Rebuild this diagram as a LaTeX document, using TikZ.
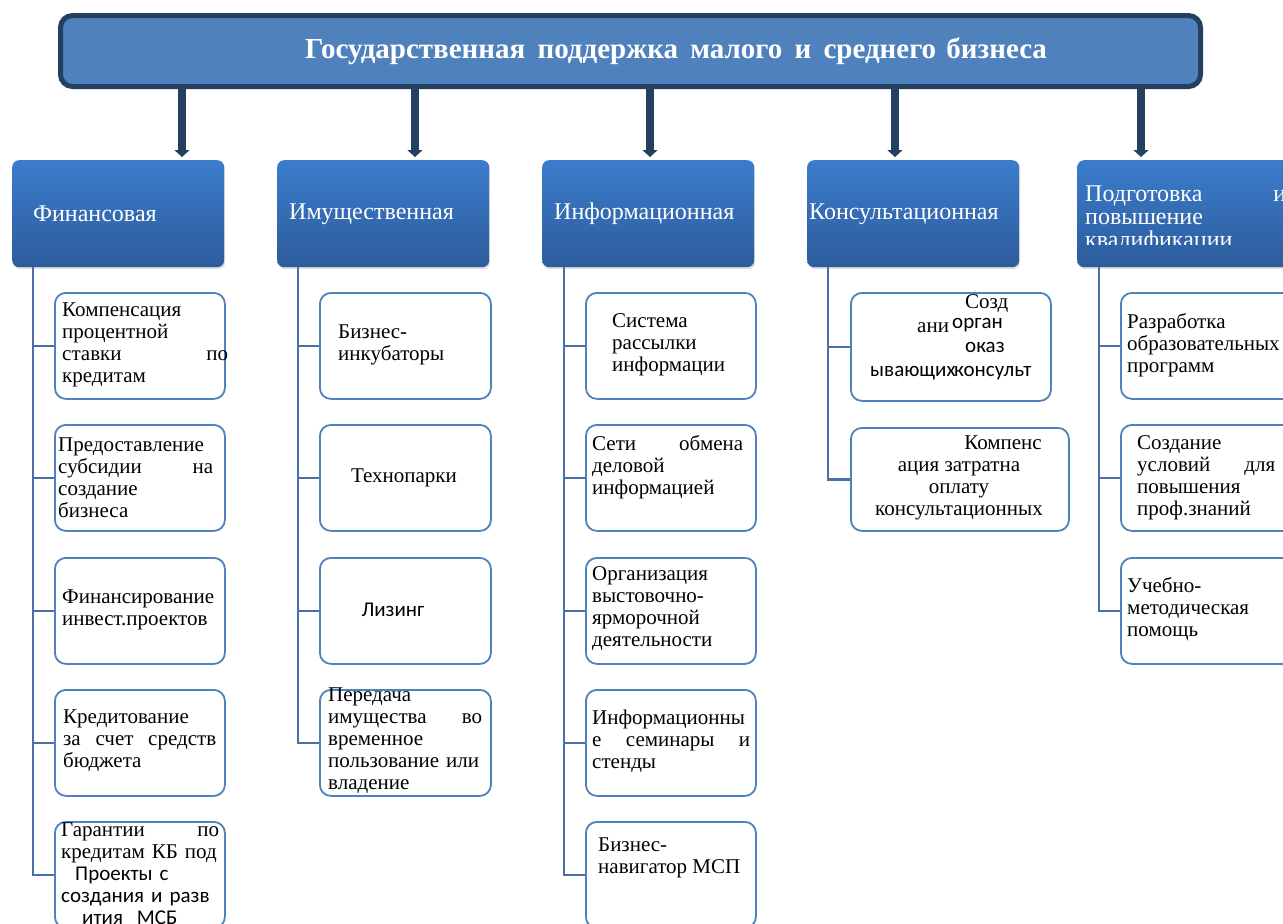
\documentclass[tikz,border=0pt]{standalone}
\usepackage{fontspec}
\setmainfont{Liberation Serif}
\newfontfamily\calfont{Carlito}
\usetikzlibrary{arrows.meta,shadows}
\definecolor{navy}{HTML}{243F60}
\definecolor{tfill}{HTML}{4F81BD}
\definecolor{ctop}{HTML}{3B7CCC}
\definecolor{cbot}{HTML}{2D5C9B}
\definecolor{sbord}{HTML}{4F81BD}
\definecolor{brline}{HTML}{4A6FA5}
\tikzset{
  titlebox/.style={draw=navy, line width=5pt, fill=tfill, rounded corners=12pt, anchor=north west, inner sep=0pt},
  catbox/.style={rounded corners=7pt, top color=ctop, bottom color=cbot, anchor=north west, inner sep=0pt,
     minimum width=212pt, minimum height=107pt, drop shadow={opacity=0.25, shadow xshift=1pt, shadow yshift=-2pt}},
  cattext/.style={text=white, font=\fontsize{24}{23}\selectfont, anchor=west, inner sep=0pt, align=left},
  subbox/.style={draw=sbord, line width=1.8pt, rounded corners=11pt, fill=white, anchor=north west, inner sep=0pt,
     minimum width=170pt, minimum height=106pt},
  subtext/.style={font=\fontsize{21}{22}\selectfont, anchor=west, inner sep=0pt, align=left},
  caltext/.style={subtext, font=\calfont\fontsize{21}{22}\selectfont},
  arr/.style={draw=navy, line width=8.5pt, -{Triangle[width=15pt,length=7pt]}},
  br/.style={draw=brline, line width=2.2pt},
}
\begin{document}
\begin{tikzpicture}[x=1pt,y=-1pt]
\clip (0,0) rectangle (1283,924);
\fill[white] (0,0) rectangle (1283,924);
% title
\node[titlebox, minimum width=1140pt, minimum height=71pt] (title) at (58,13) {};
\node[text=white, font=\bfseries\fontsize{29}{30}\selectfont, anchor=west, inner sep=0pt] (ttl) at (305,51)
  {Государственная\hspace{5pt} поддержка\hspace{5pt} малого\hspace{5pt} и\hspace{5pt} среднего\hspace{3pt} бизнеса};
% categories
\node[catbox] (c1) at (12,160) {};
\node[catbox] (c2) at (277,160) {};
\node[catbox] (c3) at (542,160) {};
\node[catbox] (c4) at (807,160) {};
\node[catbox, minimum width=230pt] (c5) at (1077,160) {};
\node[cattext] (ct1) at (33,214) {Финансовая};
\node[cattext] (ct2) at (289,214) {Имущественная};
\node[cattext] (ct3) at (554,214) {Информационная};
\node[cattext] (ct4) at (809,214) {Консультационная};
\begin{scope}
\clip (1077,160) rectangle (1300,244);
\node[cattext, text width=201pt, anchor=north west] (ct5) at (1085,186) {Подготовка\hfill и\\повышение\\квалификации};
\end{scope}
% arrows
\coordinate (a1) at (182,84);
\coordinate (a2) at (415,84);
\coordinate (a3) at (650,84);
\coordinate (a4) at (895,84);
\coordinate (a5) at (1141,84);
\draw[arr] (a1) -- ([yshift=3pt]a1 |- c1.north);
\draw[arr] (a2) -- ([yshift=3pt]a2 |- c2.north);
\draw[arr] (a3) -- ([yshift=3pt]a3 |- c3.north);
\draw[arr] (a4) -- ([yshift=3pt]a4 |- c4.north);
\draw[arr] (a5) -- ([yshift=3pt]a5 |- c5.north);
% column 1
\node[subbox] (b11) at (54,292) {};
\node[subbox] (b12) at (54,424) {};
\node[subbox] (b13) at (54,557) {};
\node[subbox] (b14) at (54,689) {};
\node[subbox] (b15) at (54,821) {};
\coordinate (s1) at (33,267);
\foreach \b in {b11,b12,b13,b14,b15} \draw[br] (s1) |- (\b.west);
\node[subtext, text width=166pt] (t11) at (62,345) {Компенсация\\процентной\\ставки\hfill по\\кредитам};
\node[subtext, text width=155pt] (t12) at (58,478) {Предоставление\\субсидии\hfill на\\создание\\бизнеса};
\node[subtext, text width=162pt] (t13) at (62,610) {Финансирование\\инвест.проектов};
\node[subtext, text width=153pt] (t14) at (63,741) {Кредитование\\за\hfill счет\hfill средств\\бюджета};
\node[subtext, text width=158pt] (t15) at (61,874) {Гарантии\hfill по\\\mbox{кредитам КБ под}\\{\calfont\ \ Проекты с}\\{\calfont создания и разв}\\{\calfont\ \ \ ития\ \ МСБ}};
% column 2
\node[subbox, minimum width=171pt] (b21) at (319,292) {};
\node[subbox, minimum width=171pt] (b22) at (319,424) {};
\node[subbox, minimum width=171pt] (b23) at (319,557) {};
\node[subbox, minimum width=171pt] (b24) at (319,689) {};
\coordinate (s2) at (298,267);
\foreach \b in {b21,b22,b23,b24} \draw[br] (s2) |- (\b.west);
\node[subtext] (t21) at (338,345) {Бизнес-\\инкубаторы};
\node[subtext, anchor=center] (t22) at (404,478) {Технопарки};
\node[caltext, anchor=center] (t23) at (393,610) {Лизинг};
\node[subtext, text width=154pt] (t24) at (328,741) {Передача\\имущества\hfill во\\временное\\\mbox{пользование или}\\владение};
% column 3
\node[subbox] (b31) at (585,292) {};
\node[subbox] (b32) at (585,424) {};
\node[subbox] (b33) at (585,557) {};
\node[subbox] (b34) at (585,689) {};
\node[subbox] (b35) at (585,821) {};
\coordinate (s3) at (564,267);
\foreach \b in {b31,b32,b33,b34,b35} \draw[br] (s3) |- (\b.west);
\node[subtext] (t31) at (612,345) {Система\\рассылки\\информации};
\node[subtext, text width=151pt] (t32) at (592,467) {Сети\hfill обмена\\деловой\\информацией};
\node[subtext] (t33) at (592,609) {Организация\\выстовочно-\\ярморочной\\деятельности};
\node[subtext, text width=158pt] (t34) at (592,741) {\mbox{Информационны}\\е\hfill семинары\hfill и\\стенды};
\node[subtext] (t35) at (598,858) {Бизнес-\\навигатор МСП};
% column 4
\node[subbox, minimum width=200pt, minimum height=108pt] (b41) at (850,292) {};
\node[subbox, minimum width=218pt, minimum height=103pt] (b42) at (850,427) {};
\coordinate (s4) at (828,267);
\foreach \b in {b41,b42} \draw[br] (s4) |- (\b.west);
\node[subtext, anchor=base west] (t41a) at (965,308) {Созд};
\node[subtext, anchor=base west] (t41b) at (917,332) {ани};
\node[caltext, anchor=base west] (t41c) at (952,328) {орган};
\node[caltext, anchor=base west] (t41d) at (965,352) {оказ};
\node[caltext, anchor=base west] (t41e) at (870,376) {ывающих};
\node[caltext, anchor=base west] (t41f) at (954,376) {консульт};
\node[subtext, anchor=center, align=center] (t42) at (959,478) {\hspace*{88pt}Компенс\\ация затратна\\оплату\\консультационных};
% column 5
\node[subbox, minimum width=175pt] (b51) at (1120,292) {};
\node[subbox, minimum width=175pt] (b52) at (1120,424) {};
\node[subbox, minimum width=175pt] (b53) at (1120,557) {};
\coordinate (s5) at (1099,267);
\foreach \b in {b51,b52,b53} \draw[br] (s5) |- (\b.west);
\node[subtext] (t51) at (1127,345) {Разработка\\образовательных\\программ};
\node[subtext, text width=138pt] (t52) at (1137,478) {Создание\\условий\hfill для\\повышения\\проф.знаний};
\node[subtext] (t53) at (1127,609) {Учебно-\\методическая\\помощь};
\end{tikzpicture}
\end{document}
